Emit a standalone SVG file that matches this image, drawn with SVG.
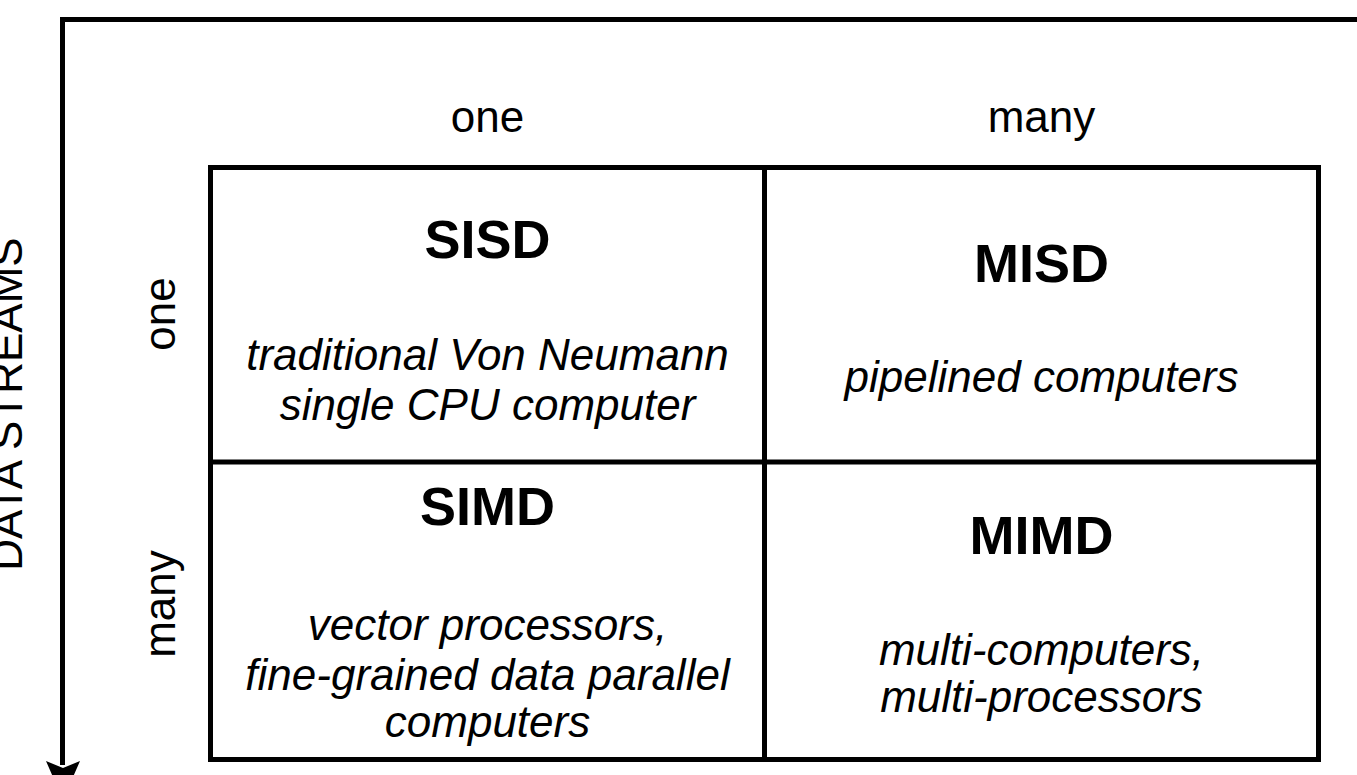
<svg xmlns="http://www.w3.org/2000/svg" width="1357" height="775" viewBox="0 0 1357 775">
<style>
text{font-family:"Liberation Sans",Arial,sans-serif;fill:#000}
.lbl{font-size:44px}
.ttl{font-size:54px;font-weight:bold}
.desc{font-size:44px;font-style:italic}
.ln{stroke:#000;stroke-width:5;fill:none}
</style>
<rect width="1357" height="775" fill="#fff"/>
<g id="connectors">
<path class="ln" d="M1357,19.5 H62.5 V765"/>
<polygon points="46,761 63,768 80,761 63,800" fill="#000"/>
</g>
<g id="axis-labels">
<text class="lbl" x="487.5" y="132" text-anchor="middle">one</text>
<text class="lbl" x="1041.5" y="132" text-anchor="middle">many</text>
<text class="lbl" transform="translate(175,314) rotate(-90)" text-anchor="middle">one</text>
<text class="lbl" transform="translate(175,604) rotate(-90)" text-anchor="middle">many</text>
<text class="lbl" transform="translate(22,404) rotate(-90)" text-anchor="middle">DATA STREAMS</text>
</g>
<g id="grid">
<rect class="ln" x="210.5" y="167.5" width="1108" height="592"/>
<line class="ln" x1="764.5" y1="167.5" x2="764.5" y2="759.5"/>
<line class="ln" x1="210.5" y1="462" x2="1318.5" y2="462"/>
</g>
<g id="sisd">
<text class="ttl" x="487.5" y="258" text-anchor="middle">SISD</text>
<text class="desc" x="487.5" y="370" text-anchor="middle">traditional Von Neumann</text>
<text class="desc" x="487.5" y="420" text-anchor="middle">single CPU computer</text>
</g>
<g id="misd">
<text class="ttl" x="1041.5" y="282" text-anchor="middle">MISD</text>
<text class="desc" x="1041.5" y="392" text-anchor="middle">pipelined computers</text>
</g>
<g id="simd">
<text class="ttl" x="487.5" y="525" text-anchor="middle">SIMD</text>
<text class="desc" x="487.5" y="640" text-anchor="middle">vector processors,</text>
<text class="desc" x="487.5" y="690" text-anchor="middle">fine-grained data parallel</text>
<text class="desc" x="487.5" y="737" text-anchor="middle">computers</text>
</g>
<g id="mimd">
<text class="ttl" x="1041.5" y="554" text-anchor="middle">MIMD</text>
<text class="desc" x="1041.5" y="665" text-anchor="middle">multi-computers,</text>
<text class="desc" x="1041.5" y="712" text-anchor="middle">multi-processors</text>
</g>
</svg>
